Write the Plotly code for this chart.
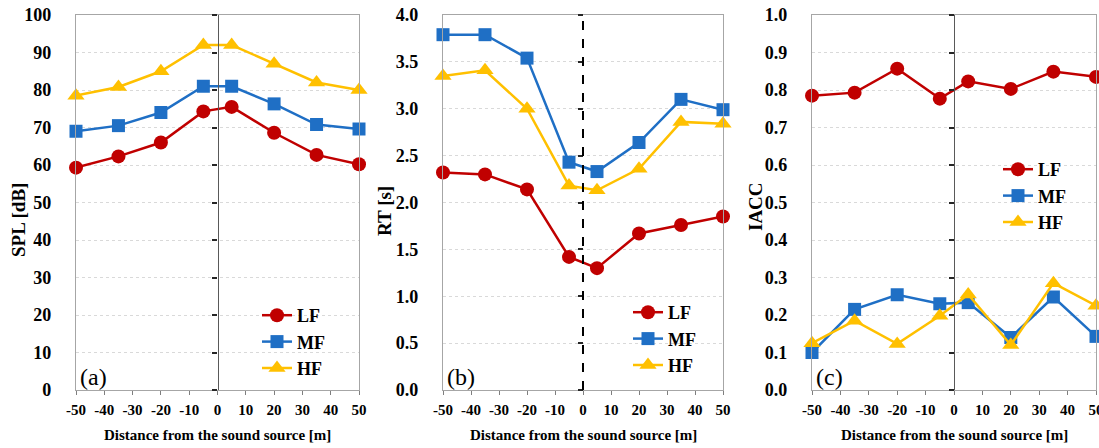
import plotly.graph_objects as go

# ---------------- data ----------------
distance = [-50, -35, -20, -5, 5, 20, 35, 50]

spl_lf = [59.3, 62.3, 66.0, 74.3, 75.5, 68.6, 62.7, 60.2]
spl_mf = [69.0, 70.5, 74.0, 81.0, 81.0, 76.3, 70.8, 69.6]
spl_hf = [78.5, 80.8, 85.0, 92.0, 92.0, 87.0, 82.0, 80.0]

rt_lf = [2.32, 2.30, 2.14, 1.42, 1.30, 1.67, 1.76, 1.85]
rt_mf = [3.79, 3.79, 3.54, 2.43, 2.33, 2.64, 3.10, 2.99]
rt_hf = [3.35, 3.41, 3.00, 2.18, 2.13, 2.36, 2.86, 2.84]

iacc_lf = [0.785, 0.793, 0.857, 0.777, 0.823, 0.803, 0.849, 0.835]
iacc_mf = [0.100, 0.215, 0.254, 0.230, 0.233, 0.140, 0.248, 0.143]
iacc_hf = [0.125, 0.185, 0.123, 0.198, 0.255, 0.120, 0.285, 0.225]

x_tick_vals = [-50, -40, -30, -20, -10, 0, 10, 20, 30, 40, 50]
x_tick_labels = ["-50", "-40", "-30", "-20", "-10", "0", "10", "20", "30", "40", "50"]

series_names = ["LF", "MF", "HF"]
panel_labels = ["(a)", "(b)", "(c)"]
y_titles = ["SPL [dB]", "RT [s]", "IACC"]
x_title = "Distance from the sound source [m]"

# ---------------- styling ----------------
W, H = 1099, 448
COLORS = {"LF": "#C00000", "MF": "#1F6FC5", "HF": "#FFC000"}
SYMBOLS = {"LF": "circle", "MF": "square", "HF": "triangle-up"}
SIZES = {"LF": 14, "MF": 13, "HF": 15}
FONT = "Liberation Serif"


def px(x):
    return x / W


def py(y):
    return 1 - y / H


panels = [
    dict(data=[spl_lf, spl_mf, spl_hf], rng=[0, 100], dtick=10, fmt="d",
         left=76, right=359, ytitle=(18, 220), legend=(257, 297), dashed=False),
    dict(data=[rt_lf, rt_mf, rt_hf], rng=[0, 4.0], dtick=0.5, fmt=".1f",
         left=443, right=723, ytitle=(385, 211), legend=(628, 294), dashed=True),
    dict(data=[iacc_lf, iacc_mf, iacc_hf], rng=[0, 1.0], dtick=0.1, fmt=".1f",
         left=812, right=1096, ytitle=(755, 207), legend=(998, 151), dashed=False),
]

TOP, BOTTOM = 15, 390

fig = go.Figure()
layout = dict(
    width=W, height=H,
    margin=dict(l=0, r=0, t=0, b=0),
    paper_bgcolor="white", plot_bgcolor="white",
    font=dict(family=FONT, color="black"),
    showlegend=True,
    annotations=[], shapes=[],
)

for i, p in enumerate(panels):
    n = i + 1
    xa = "xaxis" if n == 1 else f"xaxis{n}"
    ya = "yaxis" if n == 1 else f"yaxis{n}"
    xr = "x" if n == 1 else f"x{n}"
    yr = "y" if n == 1 else f"y{n}"
    leg = "legend" if n == 1 else f"legend{n}"
    dom_x = [px(p["left"]), px(p["right"])]
    dom_y = [py(BOTTOM), py(TOP)]

    layout[xa] = dict(
        domain=dom_x, anchor=yr, range=[-50, 50],
        tickmode="array", tickvals=x_tick_vals, ticktext=x_tick_labels,
        showgrid=False, zeroline=False, automargin=False,
        showline=True, mirror=True, linecolor="#a6a6a6", linewidth=1.2,
        ticks="outside", ticklen=4, tickcolor="#7f7f7f",
        tickfont=dict(family=FONT, size=15, color="black", weight="bold"),
        ticklabelstandoff=2, ticklabeloverflow="allow",
    )
    layout[ya] = dict(
        domain=dom_y, anchor=xr, range=p["rng"], dtick=p["dtick"], tick0=0,
        tickformat=p["fmt"], automargin=False,
        showgrid=True, gridcolor="#d9d9d9", griddash="dot", gridwidth=1,
        zeroline=False,
        showline=True, mirror=True, linecolor="#a6a6a6", linewidth=1.2,
        ticks="",
        tickfont=dict(family=FONT, size=18, color="black", weight="bold"),
        ticklabelstandoff=20,
    )
    # overlay axis at x = 0 carrying the centre line and its ticks
    m = n + 3
    oya = f"yaxis{m}"
    zero_px = p["left"] + (p["right"] - p["left"]) * 0.5
    layout[oya] = dict(
        overlaying=yr, anchor="free", position=px(zero_px), side="left",
        range=p["rng"], dtick=p["dtick"], tick0=0, automargin=False,
        showgrid=False, zeroline=False, showticklabels=False,
        showline=not p["dashed"], linecolor="#595959", linewidth=1.2,
        ticks="outside", ticklen=5, tickcolor="#262626", tickwidth=1.5,
    )
    if p["dashed"]:
        layout["shapes"].append(dict(
            type="line", xref=xr, yref=f"{yr} domain", x0=0, x1=0, y0=0, y1=1,
            line=dict(color="black", width=2, dash="dash"), layer="above",
        ))

    for name, vals in zip(series_names, p["data"]):
        fig.add_trace(go.Scatter(
            x=distance, y=vals, name=name, mode="lines+markers",
            xaxis=xr, yaxis=yr, legend=leg, cliponaxis=False,
            line=dict(color=COLORS[name], width=2.5),
            marker=dict(symbol=SYMBOLS[name], size=SIZES[name], color=COLORS[name]),
        ))
    # dummy trace on the overlay axis so it is drawn
    fig.add_trace(go.Scatter(x=[None], y=[None], xaxis=xr, yaxis=f"y{m}",
                             showlegend=False, hoverinfo="skip"))

    lx, ly = p["legend"]
    layout[leg] = dict(
        x=px(lx), y=py(ly), xanchor="left", yanchor="top",
        bgcolor="rgba(0,0,0,0)", borderwidth=0, tracegroupgap=0,
        font=dict(family=FONT, size=18, color="black", weight="bold"),
        itemwidth=30,
    )

    # panel label
    layout["annotations"].append(dict(
        text=panel_labels[i], xref="paper", yref="paper",
        x=px(p["left"] + 2), y=py(377), xanchor="left", yanchor="middle",
        showarrow=False, font=dict(family=FONT, size=24, color="black"),
    ))
    # y title
    tx, ty = p["ytitle"]
    layout["annotations"].append(dict(
        text=y_titles[i], xref="paper", yref="paper", textangle=-90,
        x=px(tx), y=py(ty), xanchor="center", yanchor="middle",
        showarrow=False, font=dict(family=FONT, size=19, color="black", weight="bold"),
    ))
    # x title
    layout["annotations"].append(dict(
        text=x_title, xref="paper", yref="paper",
        x=px((p["left"] + p["right"]) / 2), y=py(435), xanchor="center", yanchor="middle",
        showarrow=False, font=dict(family=FONT, size=15, color="black", weight="bold"),
    ))

fig.update_layout(**layout)
fig.write_html(
    "out.html",
    config={"displayModeBar": False},
    post_script="document.body.style.margin='0';document.body.style.overflow='hidden';",
)
